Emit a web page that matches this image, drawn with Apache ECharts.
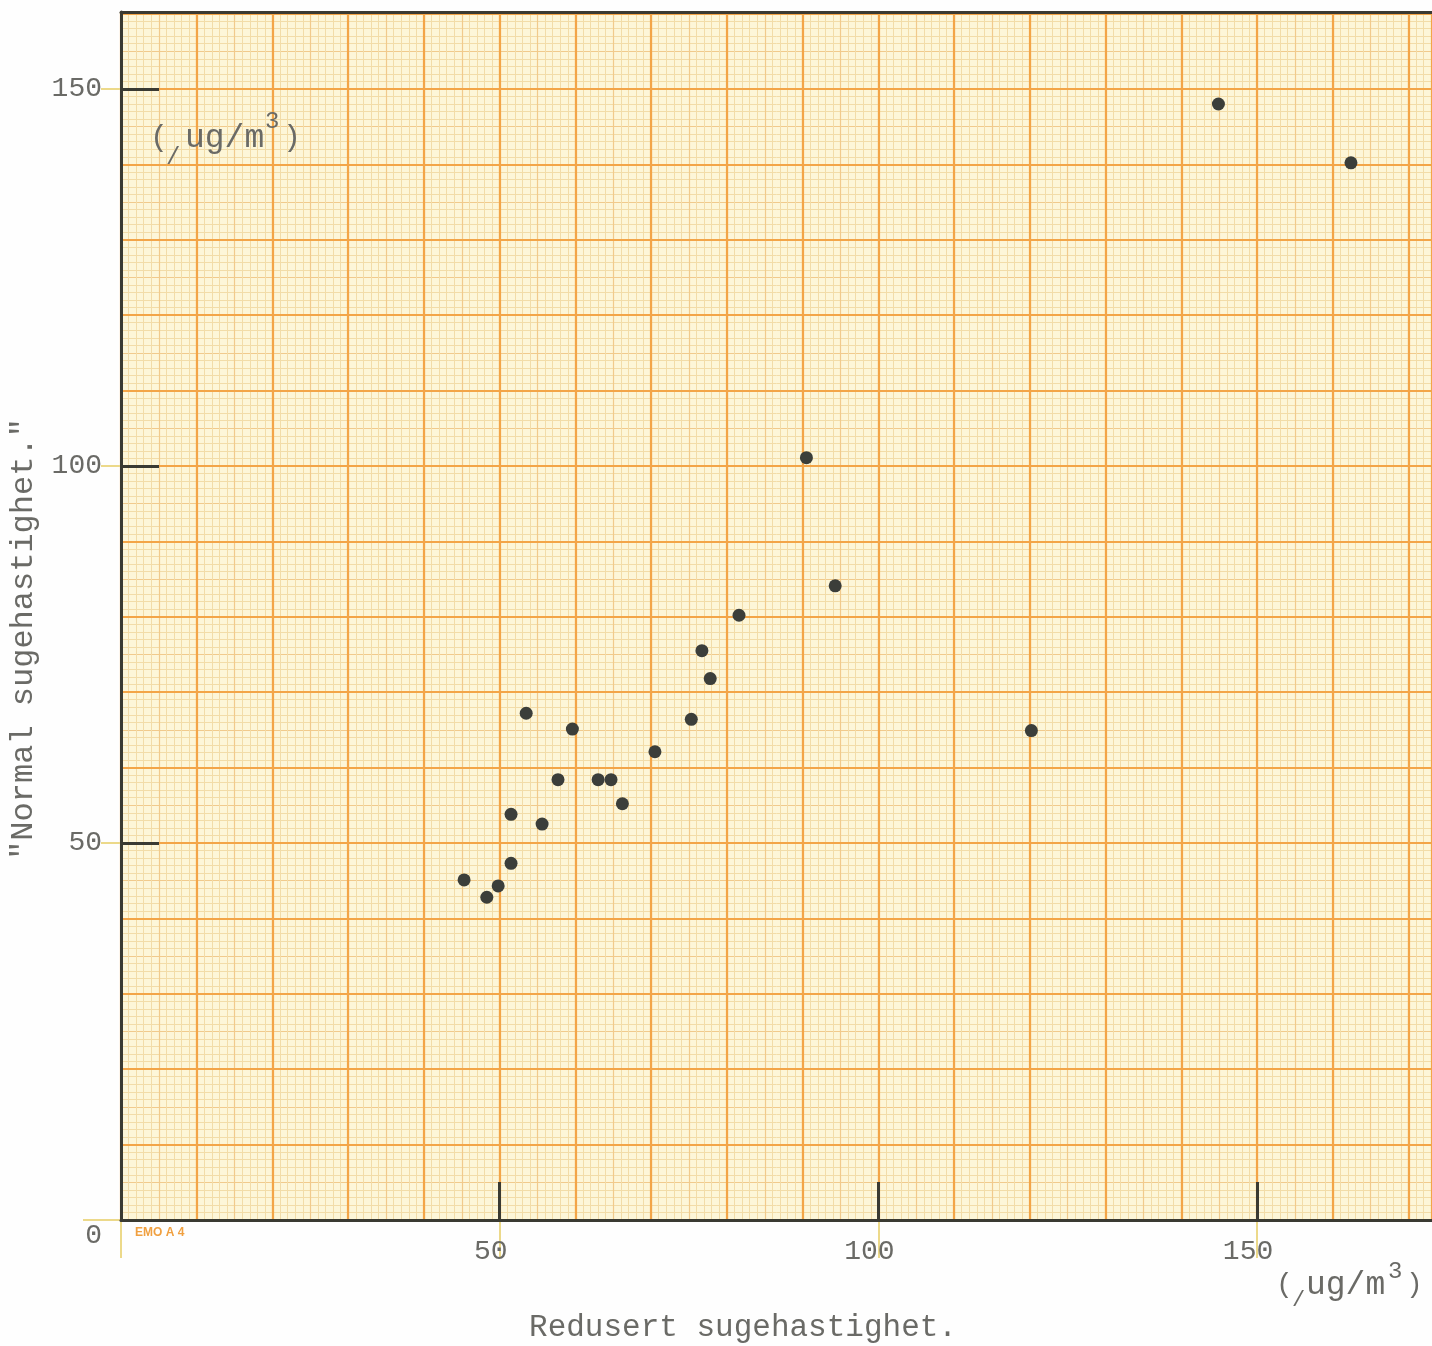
<!DOCTYPE html>
<html><head><meta charset="utf-8">
<script src="https://cdn.jsdelivr.net/npm/echarts@6/dist/echarts.min.js"></script>
<style>html,body{margin:0;padding:0;background:#fefefe}#c{width:1432px;height:1346px}</style>
</head><body><div id="c"></div>
<script>
// ---- data ----
const xTitle = 'Redusert sugehastighet.';
const yTitle = '"Normal sugehastighet."';
const unitText = 'ug/m';
const xValues = [144.9, 162.4, 90.5, 94.3, 81.6, 76.7, 77.8, 75.3, 70.5, 120.2, 53.5, 59.6, 57.7, 63.0, 64.7, 66.2, 51.5, 55.6, 51.5, 45.3, 49.8, 48.3];
const yValues = [148.0, 140.2, 101.1, 84.1, 80.2, 75.5, 71.8, 66.4, 62.1, 64.9, 67.2, 65.1, 58.4, 58.4, 58.4, 55.2, 53.8, 52.5, 47.3, 45.1, 44.3, 42.8];
const xTickLabels = [50, 100, 150];
const yTickLabels = [0, 50, 100, 150];
const xMax = 173.1, yMax = 160.2;

const MINOR = '#f2dca8', MED = '#f1ca8c', MAJOR = '#f3a548', DARK = '#3a3a32', YEL = '#ecd98a';
const TXT = '#6a6a66', FONT = '"Liberation Mono", "DejaVu Sans Mono", monospace';

function axes(dim) {
  const max = dim === 'x' ? xMax : yMax;
  const pos = dim === 'x' ? 'bottom' : 'left';
  const base = { type: 'value', min: 0, max: max, position: pos, offset: 0,
    axisLabel: { show: false }, axisTick: { show: false },
    axisLine: { show: false }, splitLine: { show: false } };
  const labels = dim === 'x' ? xTickLabels : yTickLabels;
  const list = [
    Object.assign({}, base, { interval: 5, z: 1,
      splitLine: { show: true, lineStyle: { color: MED, width: 1.2 } },
      minorTick: { show: false, splitNumber: 5 },
      minorSplitLine: { show: true, lineStyle: { color: MINOR, width: 1 } } }),
    Object.assign({}, base, { interval: 10, z: 2,
      splitLine: { show: true, lineStyle: { color: MAJOR, width: 2.2 } } }),
    Object.assign({}, base, { interval: 50, z: 3,
      axisTick: { show: true, inside: false, length: dim === 'x' ? 38 : 20, customValues: [0, 50, 100, 150], lineStyle: { color: YEL, width: 2 } } }),
    Object.assign({}, base, { interval: 50, z: 3,
      axisTick: { show: true, inside: false, length: 38, customValues: [0], lineStyle: { color: YEL, width: 2 } } }),
    Object.assign({}, base, { interval: 50, z: 5,
      axisLine: { show: true, onZero: false, lineStyle: { color: DARK, width: 3 } },
      axisTick: { show: true, inside: true, length: 38, customValues: [50, 100, 150], lineStyle: { color: DARK, width: 3 } },
      axisLabel: dim === 'x' ? {
        show: true, customValues: labels, margin: 18, color: TXT, fontFamily: FONT, fontSize: 28,
        padding: [0, 18, 0, 0]
      } : {
        show: true, customValues: labels, margin: 19, color: TXT, fontFamily: FONT, fontSize: 28,
        formatter: v => v === 0 ? '{z|0}' : String(v),
        rich: { z: { color: TXT, fontFamily: FONT, fontSize: 28, padding: [32, 0, 0, 0] } }
      } })
  ];
  if (dim === 'x') {
    list.push(Object.assign({}, base, { position: 'top', z: 5,
      axisLine: { show: true, onZero: false, lineStyle: { color: DARK, width: 3 } } }));
  }
  return list;
}

const chart = echarts.init(document.getElementById('c'), null, { renderer: 'canvas' });
const t = (x, y, text, size, extra) => ({ type: 'text', z: 50, style: Object.assign({ x: x, y: y, text: text,
  fill: TXT, font: size + 'px ' + FONT, textVerticalAlign: 'middle' }, extra || {}) });
chart.setOption({
  animation: false,
  backgroundColor: '#fefefe',
  grid: { left: 121, top: 12, right: 0, bottom: 126, show: true, backgroundColor: '#fdf6d8', borderWidth: 0,
    containLabel: false, outerBoundsMode: 'none' },
  xAxis: axes('x'),
  yAxis: axes('y'),
  series: [{
    type: 'scatter', xAxisIndex: 4, yAxisIndex: 4, z: 10,
    symbolSize: 13,
    itemStyle: { color: '#3b3e3a', opacity: 1 },
    data: xValues.map((x, i) => [x, yValues[i]])
  }],
  graphic: [
    t(743, 1328, xTitle, 31, { textAlign: 'center' }),
    { type: 'text', z: 50, x: 24, y: 639, rotation: Math.PI / 2,
      style: { x: 0, y: 0, text: yTitle, fill: TXT, font: '32px ' + FONT, textAlign: 'center', textVerticalAlign: 'middle' } },
    // top-left unit
    t(150, 138, '(', 30),
    t(166, 158, '/', 24),
    t(185, 138, unitText, 33),
    t(265, 122, '3', 24),
    t(283, 138, ')', 30),
    // bottom-right unit
    t(1276, 1285, '(', 28),
    t(1292, 1300, '/', 22),
    t(1306, 1285, unitText, 33),
    t(1388, 1272, '3', 24),
    t(1406, 1285, ')', 28),
    // paper print mark
    { type: 'text', z: 50, style: { x: 135, y: 1233, text: 'EMO A 4', fill: '#f0a040',
      font: 'bold 12px "Liberation Sans", Arial, sans-serif', textVerticalAlign: 'middle' } }
  ]
});
</script></body></html>
